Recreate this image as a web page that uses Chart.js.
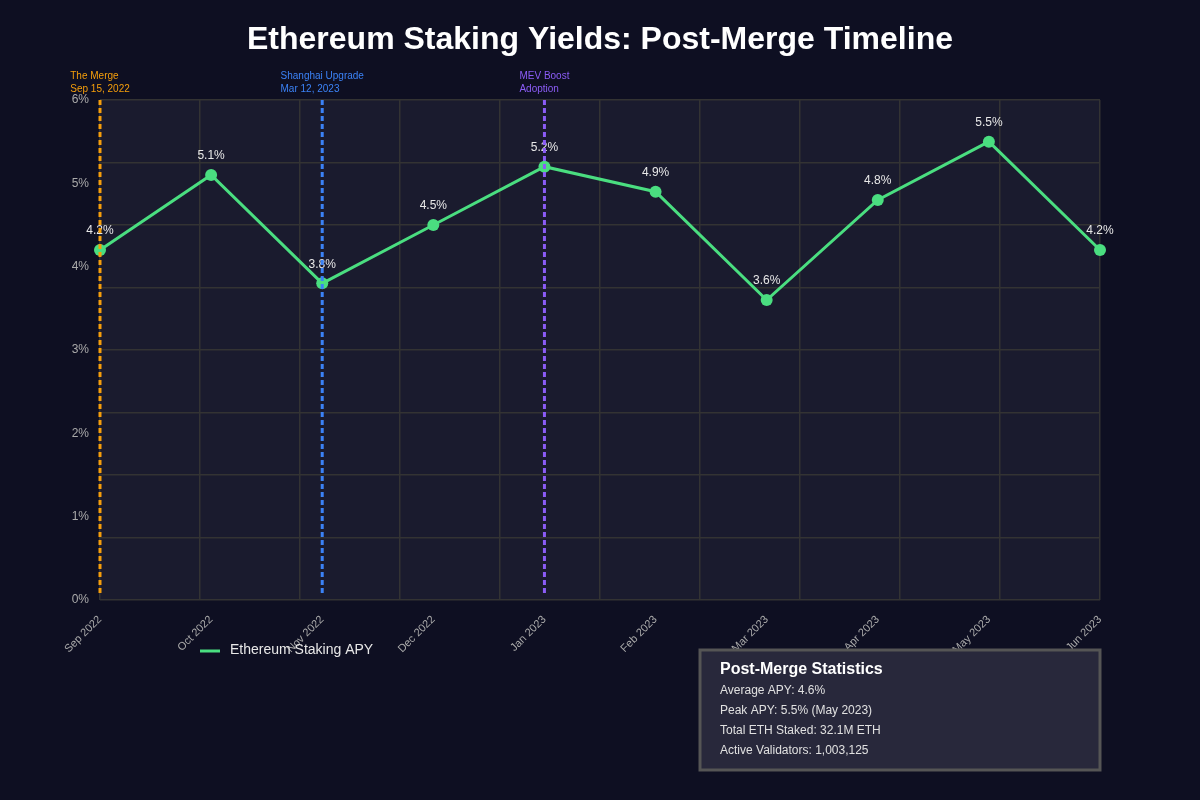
<!DOCTYPE html>
<html>
<head>
<meta charset="utf-8">
<title>Ethereum Staking Yields</title>
<script src="https://cdn.jsdelivr.net/npm/chart.js@4.4.1/dist/chart.umd.min.js"></script>
<style>
  html, body { margin: 0; padding: 0; background: #0e0f22; }
  canvas { display: block; }
</style>
</head>
<body>
<canvas id="stakingChart" width="1200" height="800"></canvas>
<script>
// Meses do eixo X
var months = ['Sep 2022', 'Oct 2022', 'Nov 2022', 'Dec 2022', 'Jan 2023',
              'Feb 2023', 'Mar 2023', 'Apr 2023', 'May 2023', 'Jun 2023'];

// APY mensal (%)
var apy = [4.2, 5.1, 3.8, 4.5, 5.2, 4.9, 3.6, 4.8, 5.5, 4.2];

// Eventos marcados no gráfico
var eventNames = ['The Merge', 'Shanghai Upgrade', 'MEV Boost'];
var eventNotes = ['Sep 15, 2022', 'Mar 12, 2023', 'Adoption'];
var eventMonths = ['Sep 2022', 'Nov 2022', 'Jan 2023'];
var eventColors = ['#f59e0b', '#3b82f6', '#8b5cf6'];

// Caixa de estatísticas
var statsTitle = 'Post-Merge Statistics';
var statsLines = ['Average APY: 4.6%', 'Peak APY: 5.5% (May 2023)',
                  'Total ETH Staked: 32.1M ETH', 'Active Validators: 1,003,125'];

var FONT = '"Liberation Sans", Arial, sans-serif';
var green = '#4ade80';

var backdrop = {
  id: 'backdrop',
  beforeDraw: function(chart) {
    var c = chart.ctx, a = chart.chartArea;
    c.save();
    c.fillStyle = '#0e0f22';
    c.fillRect(0, 0, chart.width, chart.height);
    c.fillStyle = '#1a1b2e';
    c.fillRect(a.left, a.top, a.right - a.left, a.bottom - a.top);
    c.fillStyle = '#ffffff';
    c.font = 'bold 32px ' + FONT;
    c.textAlign = 'center';
    c.textBaseline = 'middle';
    c.fillText('Ethereum Staking Yields: Post-Merge Timeline', chart.width / 2, 40);
    c.restore();
  }
};

var extras = {
  id: 'extras',
  afterDatasetsDraw: function(chart) {
    var c = chart.ctx, a = chart.chartArea;
    var meta = chart.getDatasetMeta(0);
    c.save();
    // rótulos dos pontos
    c.font = '12px ' + FONT;
    c.fillStyle = '#e8e8e8';
    c.textAlign = 'center';
    c.textBaseline = 'middle';
    meta.data.forEach(function(pt, i) {
      c.fillText(apy[i].toFixed(1) + '%', pt.x, pt.y - 19);
    });
    // linhas dos eventos
    eventMonths.forEach(function(m, i) {
      var x = chart.scales.x.getPixelForValue(months.indexOf(m));
      c.strokeStyle = eventColors[i];
      c.lineWidth = 3;
      c.setLineDash([5, 3]);
      c.beginPath();
      c.moveTo(x, a.top);
      c.lineTo(x, a.bottom - 4);
      c.stroke();
      c.setLineDash([]);
      c.font = '10px ' + FONT;
      c.fillStyle = eventColors[i];
      c.textAlign = 'left';
      var w = Math.max(c.measureText(eventNames[i]).width, c.measureText(eventNotes[i]).width);
      c.fillText(eventNames[i], x - w / 2, a.top - 24);
      c.fillText(eventNotes[i], x - w / 2, a.top - 11);
    });
    c.restore();
  },
  afterDraw: function(chart) {
    var c = chart.ctx;
    c.save();
    // legenda
    var ds = chart.data.datasets[0];
    c.strokeStyle = ds.borderColor;
    c.lineWidth = 3;
    c.beginPath();
    c.moveTo(200, 651);
    c.lineTo(220, 651);
    c.stroke();
    c.font = '14px ' + FONT;
    c.fillStyle = '#e8e8e8';
    c.textAlign = 'left';
    c.textBaseline = 'middle';
    c.fillText(ds.label, 230, 650);
    // caixa de estatísticas
    c.fillStyle = '#28283b';
    c.fillRect(700, 650, 400, 120);
    c.strokeStyle = '#555555';
    c.lineWidth = 3;
    c.strokeRect(700, 650, 400, 120);
    c.fillStyle = '#ffffff';
    c.font = 'bold 16px ' + FONT;
    c.fillText(statsTitle, 720, 670);
    c.font = '12px ' + FONT;
    c.fillStyle = '#e0e0e0';
    statsLines.forEach(function(t, i) {
      c.fillText(t, 720, 691 + i * 20);
    });
    c.restore();
  }
};

var ctx = document.getElementById('stakingChart');
var chart = new Chart(ctx, {
  type: 'line',
  data: {
    labels: months,
    datasets: [{
      label: 'Ethereum Staking APY',
      data: apy,
      borderColor: green,
      backgroundColor: green,
      borderWidth: 3,
      pointRadius: 6,
      pointBackgroundColor: green,
      pointBorderWidth: 0,
      tension: 0,
      fill: false
    }]
  },
  options: {
    responsive: false,
    animation: false,
    layout: { padding: { top: 100, right: 100, left: 0, bottom: 0 } },
    plugins: {
      legend: { display: false },
      title: { display: false },
      tooltip: { enabled: false }
    },
    scales: {
      x: {
        type: 'category',
        offset: false,
        grid: { display: false, drawTicks: false },
        border: { display: false },
        ticks: {
          color: '#aaaaaa',
          font: { size: 11, family: FONT },
          minRotation: 45,
          maxRotation: 45,
          padding: 13,
          autoSkip: false
        },
        afterFit: function(s) { s.height = 200; }
      },
      xg: {
        type: 'linear',
        position: 'bottom',
        min: 0, max: 10,
        ticks: { display: false, stepSize: 1 },
        grid: { color: '#333333', lineWidth: 1.5, drawTicks: false },
        border: { display: false },
        afterFit: function(s) { s.height = 0; }
      },
      y: {
        min: 0, max: 6,
        grid: { display: false, drawTicks: false },
        border: { display: false },
        ticks: {
          stepSize: 1,
          color: '#aaaaaa',
          font: { size: 12, family: FONT },
          padding: 11,
          callback: function(v) { return v + '%'; }
        },
        afterFit: function(s) { s.width = 100; }
      },
      yg: {
        type: 'linear',
        position: 'left',
        min: 0, max: 6,
        ticks: { display: false, stepSize: 0.75 },
        grid: { color: '#333333', lineWidth: 1.5, drawTicks: false },
        border: { display: false },
        afterFit: function(s) { s.width = 0; }
      }
    }
  },
  plugins: [backdrop, extras]
});
</script>
</body>
</html>
